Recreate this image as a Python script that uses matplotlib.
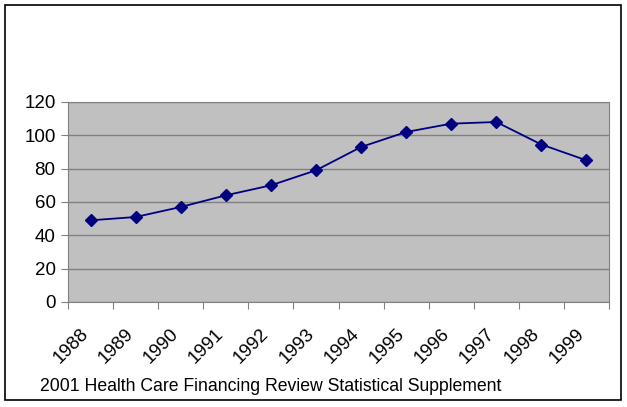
import matplotlib
matplotlib.use("Agg")
import matplotlib.pyplot as plt
from matplotlib.patches import Rectangle
from matplotlib.transforms import ScaledTranslation

years = ["1988", "1989", "1990", "1991", "1992", "1993", "1994", "1995", "1996", "1997", "1998", "1999"]
values = [49, 51, 57, 64, 70, 79, 93, 102, 107, 108, 94.5, 85]
y_ticks = [0, 20, 40, 60, 80, 100, 120]
footer = "2001 Health Care Financing Review Statistical Supplement"

plt.rcParams['font.family'] = ['Liberation Sans', 'DejaVu Sans']

W, H = 627, 407
fig = plt.figure(figsize=(W / 100, H / 100), dpi=100)
fig.patch.set_facecolor("white")

# outer border
fig.patches.append(Rectangle((5 / W, 1 - 400 / H), (620.5 - 5) / W, (400 - 5) / H,
                             transform=fig.transFigure, fill=False, edgecolor="black", lw=1.2))

left, right, top, bottom = 68, 609, 102, 302
ax = fig.add_axes([left / W, 1 - bottom / H, (right - left) / W, (bottom - top) / H])
ax.set_facecolor("#C0C0C0")
x = list(range(len(years)))
ax.plot(x, values, color="#000080", lw=1.3, marker="D", markersize=6.5,
        markerfacecolor="#000080", markeredgecolor="#000080", zorder=3)

ax.set_xlim(-0.5, len(years) - 0.5)
ax.set_ylim(0, 120)
ax.set_yticks(y_ticks)
ax.set_yticklabels([str(v) for v in y_ticks], fontsize=13.5)
ax.yaxis.grid(True, color="#808080", lw=1)
ax.set_axisbelow(True)

bounds = [i - 0.5 for i in range(len(years) + 1)]
ax.set_xticks(bounds)
ax.set_xticklabels(years + [""], fontsize=13.5, rotation=45, ha="right", rotation_mode="anchor")
ax.tick_params(axis="x", length=5, color="#808080", pad=6)
ax.tick_params(axis="y", length=5, color="#808080", pad=4)
off = ScaledTranslation(12 / 100, -8 / 100, fig.dpi_scale_trans)
for lab in ax.get_xticklabels():
    lab.set_transform(lab.get_transform() + off)
for s in ["left", "bottom", "right", "top"]:
    ax.spines[s].set_color("#808080")

fig.text(40 / W, 1 - 391 / H, footer, fontsize=12.7, va="baseline", ha="left")

fig.savefig("out.png", dpi=100)
